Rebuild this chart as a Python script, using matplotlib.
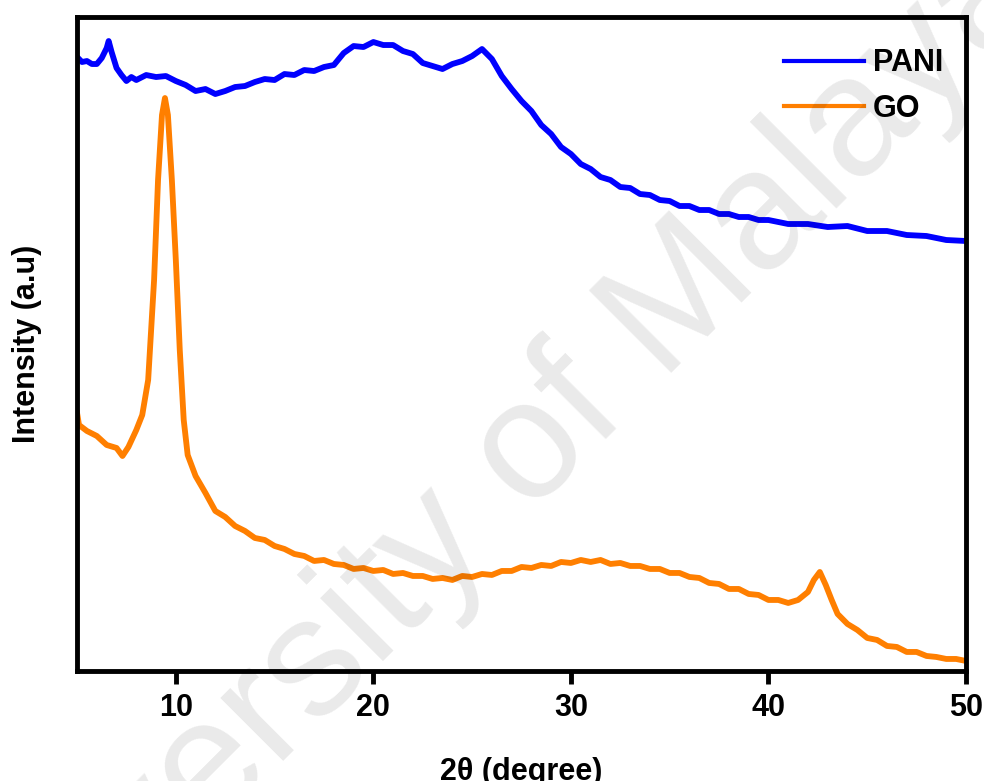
import matplotlib
matplotlib.use("Agg")
import matplotlib.pyplot as plt

plt.rcParams['font.family'] = ['Liberation Sans', 'DejaVu Sans']
plt.rcParams['font.weight'] = 'bold'

# XRD patterns (2-theta in degrees, intensity in arbitrary units)
pani_2theta = [5.0, 5.25, 5.5, 5.75, 6.0, 6.25, 6.5, 6.6, 6.75, 7.0, 7.25, 7.5, 7.75, 8.0,
               8.5, 9.0, 9.5, 10.0, 10.5, 11.0, 11.5, 12.0, 12.5, 13.0, 13.5, 14.0, 14.5,
               15.0, 15.5, 16.0, 16.5, 17.0, 17.5, 18.0, 18.5, 19.0, 19.5, 20.0, 20.5, 21.0,
               21.5, 22.0, 22.5, 23.0, 23.5, 24.0, 24.5, 25.0, 25.5, 26.0, 26.5, 27.0, 27.5,
               28.0, 28.5, 29.0, 29.5, 30.0, 30.5, 31.0, 31.5, 32.0, 32.5, 33.0, 33.5, 34.0,
               34.5, 35.0, 35.5, 36.0, 36.5, 37.0, 37.5, 38.0, 38.5, 39.0, 39.5, 40.0, 41.0,
               42.0, 43.0, 44.0, 45.0, 46.0, 47.0, 48.0, 49.0, 50.0]
pani_intensity = [614, 609, 610, 607, 607, 613, 623, 630, 619, 603, 596, 590, 594, 591,
                  596, 594, 595, 590, 586, 580, 582, 577, 580, 584, 585, 589, 592,
                  591, 597, 596, 601, 600, 604, 606, 618, 625, 624, 629, 626, 626,
                  620, 617, 608, 605, 602, 607, 610, 615, 622, 612, 595, 582, 570,
                  560, 546, 537, 524, 517, 507, 502, 494, 491, 484, 483, 477, 476,
                  471, 470, 465, 465, 461, 461, 457, 457, 454, 454, 451, 451, 447,
                  447, 444, 445, 440, 440, 436, 435, 431, 430]

go_2theta = [5.0, 5.1, 5.5, 6.0, 6.5, 7.0, 7.3, 7.6, 8.0, 8.3, 8.6, 8.9, 9.1, 9.3, 9.45,
             9.6, 9.8, 10.0, 10.2, 10.4, 10.6, 11.0, 11.5, 12.0, 12.5, 13.0, 13.5, 14.0,
             14.5, 15.0, 15.5, 16.0, 16.5, 17.0, 17.5, 18.0, 18.5, 19.0, 19.5, 20.0, 20.5,
             21.0, 21.5, 22.0, 22.5, 23.0, 23.5, 24.0, 24.5, 25.0, 25.5, 26.0, 26.5, 27.0,
             27.5, 28.0, 28.5, 29.0, 29.5, 30.0, 30.5, 31.0, 31.5, 32.0, 32.5, 33.0, 33.5,
             34.0, 34.5, 35.0, 35.5, 36.0, 36.5, 37.0, 37.5, 38.0, 38.5, 39.0, 39.5, 40.0,
             40.5, 41.0, 41.5, 42.0, 42.3, 42.6, 42.9, 43.2, 43.5, 44.0, 44.5, 45.0, 45.5,
             46.0, 46.5, 47.0, 47.5, 48.0, 48.5, 49.0, 49.5, 50.0]
go_intensity = [258, 246, 240, 235, 226, 223, 215, 224, 241, 256, 291, 391, 491, 556, 573,
                556, 491, 411, 321, 251, 216, 195, 178, 160, 154, 145, 140, 133,
                131, 125, 122, 117, 115, 110, 111, 107, 106, 102, 103, 100, 101,
                97, 98, 95, 95, 92, 93, 91, 95, 94, 97, 96, 100, 100,
                104, 103, 106, 105, 109, 108, 111, 109, 111, 107, 108, 105, 105,
                102, 102, 98, 98, 94, 93, 88, 87, 82, 82, 77, 76, 71,
                71, 68, 71, 79, 91, 99, 86, 71, 57, 47, 41, 33, 31,
                25, 24, 19, 19, 15, 14, 12, 12, 10]

series_names = ["PANI", "GO"]
series_colors = ["#0000ff", "#ff7f00"]
x_ticks = [10, 20, 30, 40, 50]

fig = plt.figure(figsize=(9.84, 7.81), dpi=100)
ax = fig.add_axes([0.0783, 0.1409, 0.9034, 0.8373])

ax.plot(pani_2theta, pani_intensity, color=series_colors[0], lw=4.2,
        label=series_names[0], solid_joinstyle='round')
ax.plot(go_2theta, go_intensity, color=series_colors[1], lw=4.2,
        label=series_names[1], solid_joinstyle='round')

ax.set_xlim(5, 50)
ax.set_ylim(0, 654)
ax.set_xticks(x_ticks)
ax.set_yticks([])
ax.tick_params(axis='x', direction='out', length=9, width=3.5, labelsize=22, pad=7)
for lab in ax.get_xticklabels():
    lab.set_fontweight('bold')
for sp in ax.spines.values():
    sp.set_linewidth(3.5)

ax.set_xlabel("2\u03b8 (degree)", fontsize=22, fontweight='bold', labelpad=24)
ax.set_ylabel("Intensity (a.u)", fontsize=22, fontweight='bold', labelpad=25)

leg = ax.legend(loc='upper right', bbox_to_anchor=(0.9745, 0.952), frameon=False,
                handlelength=2.6, handletextpad=0.3, labelspacing=0.5,
                borderaxespad=0.0, borderpad=0.0,
                prop={'weight': 'bold', 'size': 22})
for line in leg.get_lines():
    line.set_linewidth(3.0)

fig.text(478 / 984, 1 - 505 / 781, "University of Malaya", fontsize=122,
         fontweight='normal', color='black', alpha=0.085,
         rotation=45, ha='center', va='center', zorder=10)

fig.savefig("out.png", dpi=100)
